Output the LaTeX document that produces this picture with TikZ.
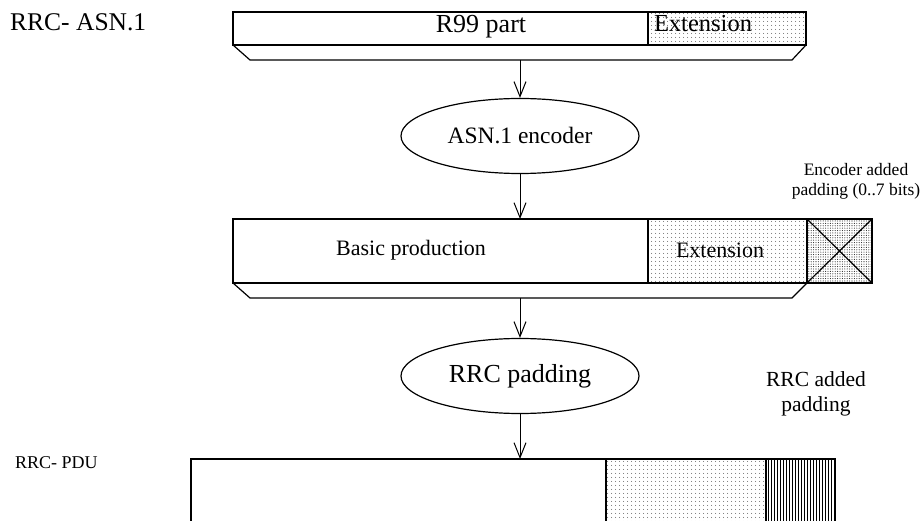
\documentclass[tikz,border=0pt]{standalone}
\usepackage{fontspec}
\setmainfont{Liberation Serif}
\usetikzlibrary{arrows.meta,patterns.meta,shapes.geometric}
\begin{document}
\begin{tikzpicture}[x=1pt,y=-1pt,
  box/.style={draw, line width=1.2pt, inner sep=0pt, outer sep=0pt, anchor=north west},
  fine/.style={pattern={Dots[distance=4pt,radius=0.5pt]}, pattern color=black!85},
  dense/.style={pattern={Dots[distance=2.4pt,radius=0.55pt]}, pattern color=black!85},
  vlines/.style={pattern={Lines[angle=90,distance=3pt,line width=0.8pt]}},
  oval/.style={ellipse, draw, line width=1.2pt, inner sep=0pt},
  arr/.style={-{Straight Barb[length=15pt,width=12pt]}, line width=1pt},
  edge/.style={line width=1.2pt},
  lbl/.style={inner sep=0pt, align=center},
  fs/.style={font=\fontsize{#1pt}{\dimexpr #1pt*115/100\relax}\selectfont}]
\clip (0,0) rectangle (921,521);
\useasboundingbox (0,0) rectangle (921,521);

% top row
\node[lbl, fs=25.5, anchor=west] (asnlbl) at (10,22) {RRC- ASN.1};
\node[box, minimum width=415pt, minimum height=33pt] (r99) at (233,12) {};
\node[lbl, fs=26] (r99t) at (481,27) {R99 part};
\node[box, fine, minimum width=158pt, minimum height=33pt] (ext1) at (648,12) {};
\node[lbl, fs=24.5] (ext1t) at (703,24) {Extension};
\draw[edge] (r99.south west) -- ++(17,15) -- (792,60) -- (ext1.south east);
\coordinate (t1) at (520,60);

% encoder
\node[oval, minimum width=238pt, minimum height=75pt, fs=23.5] (enc) at (520,136) {ASN.1 encoder};
\draw[arr] (t1) -- (enc.north);

% second row
\node[lbl, fs=17.5] (enclbl) at (856,181) {Encoder added\\padding (0..7 bits)};
\node[box, minimum width=415pt, minimum height=64pt] (basic) at (233,219) {};
\node[lbl, fs=22] (basict) at (411,250) {Basic production};
\node[box, fine, minimum width=159pt, minimum height=64pt] (ext2) at (648,219) {};
\node[lbl, fs=22] (ext2t) at (720,250) {Extension};
\node[box, dense, minimum width=65pt, minimum height=64pt] (pad) at (807,219) {};
\draw[edge] (pad.north west) -- (pad.south east) (pad.north east) -- (pad.south west);
\draw[arr] (enc.south) -- (basic.north east -| enc.south);
\draw[edge] (basic.south west) -- ++(17,15) -- (792,298) -- (ext2.south east);
\coordinate (t2) at (520,298);

% rrc padding
\node[oval, minimum width=238pt, minimum height=75pt, fs=26] (rrc) at (520,376) {RRC padding};
\draw[arr] (t2) -- (rrc.north);

% bottom row
\node[lbl, fs=21.5] (rrclbl) at (816,394) {RRC added\\padding};
\node[lbl, fs=18, anchor=west] (pdulbl) at (15,463) {RRC- PDU};
\node[box, minimum width=415pt, minimum height=80pt] (pdu) at (191,459) {};
\node[box, fine, minimum width=160pt, minimum height=80pt] (pext) at (606,459) {};
\node[box, vlines, minimum width=69pt, minimum height=80pt] (ppad) at (766,459) {};
\draw[arr] (rrc.south) -- (pdu.north east -| rrc.south);
\end{tikzpicture}
\end{document}
